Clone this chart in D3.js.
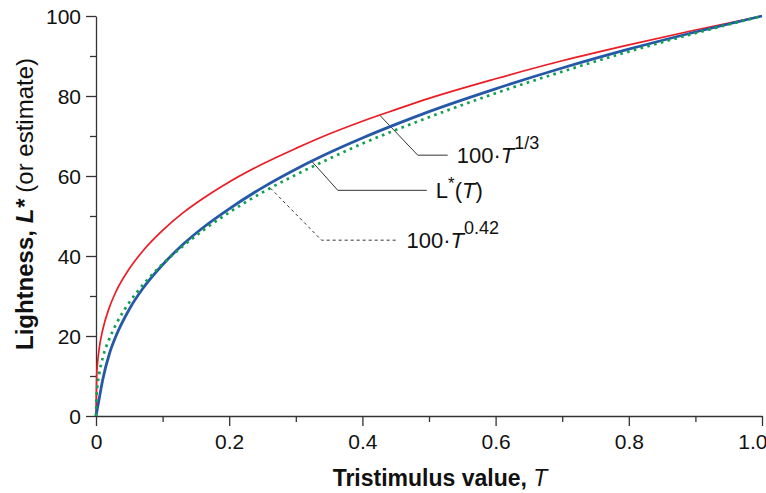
<!DOCTYPE html>
<html>
<head>
<meta charset="utf-8">
<script src="https://cdn.jsdelivr.net/npm/d3@7"></script>
<style>
  html, body { margin: 0; padding: 0; background: #fff; }
  svg { display: block; font-family: "Liberation Sans", Arial, Helvetica, sans-serif; }
</style>
</head>
<body>
<svg id="chart" width="766" height="493"></svg>
<script>
// ---- data ----
const tValues   = [0, 0.001, 0.002, 0.005, 0.01, 0.02, 0.03, 0.05, 0.07, 0.1, 0.13, 0.16, 0.2, 0.25, 0.3, 0.35, 0.4, 0.45, 0.5, 0.6, 0.7, 0.8, 0.9, 1.0];
const cubeRoot  = [0, 10.0, 12.6, 17.1, 21.5, 27.1, 31.1, 36.8, 41.2, 46.4, 50.7, 54.3, 58.5, 63.0, 66.9, 70.5, 73.7, 76.6, 79.4, 84.3, 88.8, 92.8, 96.5, 100];
const lStar     = [0, 0.9, 1.8, 4.5, 9.0, 15.5, 20.0, 26.7, 31.8, 37.8, 42.8, 47.0, 51.8, 57.1, 61.7, 65.8, 69.5, 72.9, 76.1, 81.8, 87.0, 91.7, 96.0, 100];
const power042  = [0, 5.5, 7.4, 10.8, 14.5, 19.3, 22.9, 28.4, 32.7, 38.0, 42.4, 46.3, 50.9, 55.9, 60.3, 64.3, 68.1, 71.5, 74.7, 80.7, 86.1, 91.1, 95.7, 100];

const xMajorTicks = [0, 0.2, 0.4, 0.6, 0.8, 1.0];
const xTickLabels = ["0", "0.2", "0.4", "0.6", "0.8", "1.0"];
const xMinorTicks = [0.1, 0.3, 0.5, 0.7, 0.9];
const yMajorTicks = [0, 20, 40, 60, 80, 100];
const yMinorTicks = [10, 30, 50, 70, 90];

// annotation anchors (T value on each curve)
const annoT      = [0.426, 0.324, 0.262];
const annoSeries = ["cube", "lstar", "p042"];

// ---- layout ----
const svg = d3.select("#chart");
const x = d3.scaleLinear().domain([0, 1]).range([96, 762]);
const y = d3.scaleLinear().domain([0, 100]).range([416, 16]);
const axisColor = "#333";
const fontFam = "'Liberation Sans', Arial, sans-serif";

// axes
const gx = svg.append("g").attr("transform", "translate(0,416)");
gx.call(d3.axisBottom(x).tickValues(xMinorTicks).tickSize(6).tickFormat(""));
gx.call(g => g.select(".domain").remove());
const gx2 = svg.append("g").attr("transform", "translate(0,416)");
gx2.call(d3.axisBottom(x).tickValues(xMajorTicks).tickSize(10).tickSizeOuter(0)
  .tickFormat((d, i) => xTickLabels[i]).tickPadding(8));

const gy = svg.append("g").attr("transform", "translate(96,0)");
gy.call(d3.axisLeft(y).tickValues(yMinorTicks).tickSize(6).tickFormat(""));
gy.call(g => g.select(".domain").remove());
const gy2 = svg.append("g").attr("transform", "translate(96,0)");
gy2.call(d3.axisLeft(y).tickValues(yMajorTicks).tickSize(10).tickSizeOuter(0).tickPadding(5));

svg.selectAll(".domain, .tick line").attr("stroke", axisColor).attr("stroke-width", 1.3);
svg.selectAll(".tick text").attr("font-size", 21).attr("fill", "#111").attr("font-family", fontFam);
gy2.selectAll(".tick text").attr("dy", "0.36em");
// last x label sits against the right edge
gx2.selectAll(".tick text").filter(d => d === 1).attr("text-anchor", "end").attr("dx", 5);

// curves
const series = {
  cube:  { vals: cubeRoot, color: "#ec1c24", width: 1.7, dash: null },
  lstar: { vals: lStar,    color: "#2658a8", width: 2.8, dash: null },
  p042:  { vals: power042, color: "#0fa04c", width: 2.7, dash: "2.6,4.4" }
};
const line = d3.line().x(d => x(d[0])).y(d => y(d[1])).curve(d3.curveMonotoneX);

// leader lines (drawn under curves)
const interp = (vals, t) => {
  const i = d3.bisectRight(tValues, t) - 1;
  const t0 = tValues[i], t1 = tValues[i + 1];
  return vals[i] + (vals[i + 1] - vals[i]) * (t - t0) / (t1 - t0);
};
const leaderGeom = [
  { dx: 38, dy: 40, len: 30, dash: null },
  { dx: 26, dy: 29, len: 89, dash: null },
  { dx: 51, dy: 52, len: 76, dash: "3,3" }
];
const labelPos = [];
annoT.forEach((t, i) => {
  const s = series[annoSeries[i]];
  const px = x(t), py = y(interp(s.vals, t));
  const g = leaderGeom[i];
  const ex = px + g.dx, ey = py + g.dy;
  svg.append("path")
    .attr("d", `M${px},${py}L${ex},${ey}L${ex + g.len},${ey}`)
    .attr("fill", "none").attr("stroke", "#333").attr("stroke-width", 1)
    .attr("stroke-dasharray", g.dash);
  labelPos.push([ex + g.len + 9, ey + 8]);
});

["cube", "lstar", "p042"].forEach(k => {
  const s = series[k];
  svg.append("path")
    .datum(tValues.map((t, i) => [t, s.vals[i]]))
    .attr("d", line)
    .attr("fill", "none")
    .attr("stroke", s.color)
    .attr("stroke-width", s.width)
    .attr("stroke-dasharray", s.dash)
    .attr("stroke-linejoin", "round");
});

// labels
function label(pos, parts) {
  const t = svg.append("text").attr("x", pos[0]).attr("y", pos[1])
    .attr("font-size", 22).attr("fill", "#111").attr("font-family", fontFam);
  let shifted = 0;
  parts.forEach(p => {
    const ts = t.append("tspan").text(p.text);
    if (p.italic) ts.attr("font-style", "italic");
    if (p.sup) {
      ts.attr("dy", -p.rise).attr("font-size", p.size);
      shifted += p.rise;
    } else if (shifted) {
      ts.attr("dy", shifted);
      shifted = 0;
    }
  });
}
label(labelPos[0], [{ text: "100·" }, { text: "T", italic: true }, { text: "1/3", sup: true, size: 18, rise: 14 }]);
label(labelPos[1], [{ text: "L" }, { text: "*", sup: true, size: 17, rise: 9 }, { text: "(" }, { text: "T", italic: true }, { text: ")" }]);
label(labelPos[2], [{ text: "100·" }, { text: "T", italic: true }, { text: "0.42", sup: true, size: 18, rise: 14 }]);

// axis titles
const xt = svg.append("text").attr("x", 440).attr("y", 486).attr("text-anchor", "middle")
  .attr("font-size", 23).attr("fill", "#111").attr("font-family", fontFam);
xt.append("tspan").text("Tristimulus value, ").attr("font-weight", "bold");
xt.append("tspan").text("T").attr("font-style", "italic");

const yt = svg.append("text").attr("transform", "translate(33,204) rotate(-90)")
  .attr("text-anchor", "middle").attr("font-size", 24).attr("fill", "#111").attr("font-family", fontFam);
yt.append("tspan").text("Lightness, ").attr("font-weight", "bold");
yt.append("tspan").text("L*").attr("font-weight", "bold").attr("font-style", "italic");
yt.append("tspan").text(" (or estimate)");
</script>
</body>
</html>
